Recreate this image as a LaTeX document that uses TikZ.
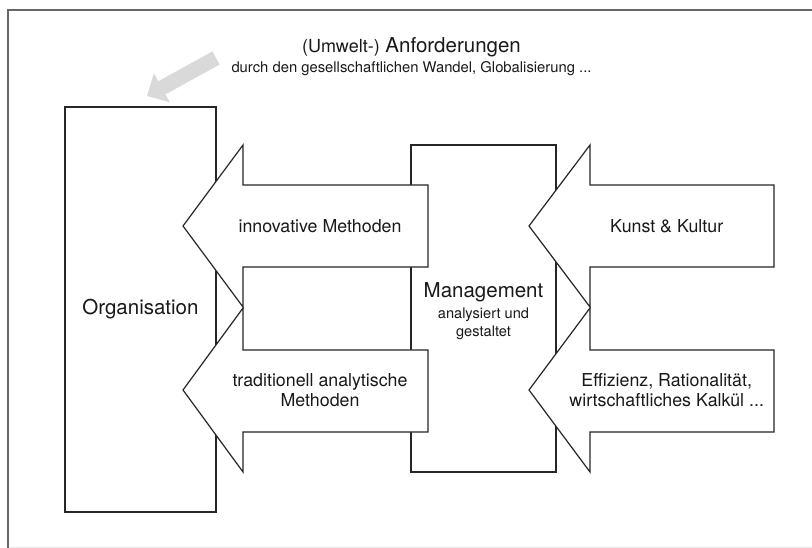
\documentclass[tikz,border=0pt]{standalone}
\usepackage{fontspec}
\setmainfont{TeX Gyre Heros}
\usetikzlibrary{arrows.meta,positioning}
\begin{document}
\begin{tikzpicture}[x=1pt,y=-1pt,
    box/.style={draw=black!85,line width=1.3pt,fill=white,inner sep=0pt},
    bigarrow/.style={draw=black!85,line width=1.2pt,fill=white,line join=miter},
    arrowtext/.style={text=black!90,inner sep=0pt,align=center,font=\fontsize{17.8}{20}\selectfont},
    bigtext/.style={text=black!90,inner sep=0pt,font=\fontsize{20.5}{24}\selectfont},
    smalltext/.style={text=black!90,inner sep=0pt,align=center,font=\fontsize{14.8}{18}\selectfont}]
  \useasboundingbox (0,0) rectangle (812,548);
  \draw[black!8,line width=1pt] (8,547) -- (812,547);
  \draw[black!60,line width=2pt] (8,560) -- (8,10) -- (820,10);
  \node[bigtext,anchor=base] (req) at (411.5,53)
    {{\fontsize{18}{20}\selectfont (Umwelt-)} Anforderungen};
  \node[smalltext,below=3.3pt of req] (reqsub)
    {durch den gesellschaftlichen Wandel, Globalisierung ...};
  \coordinate (envtail) at (216,58);
  \coordinate (envtip) at (147,96);
  \draw[black!15,line width=15pt,-{Triangle[width=32pt,length=17pt]}] (envtail) -- (envtip);
  \node[box,bigtext,minimum width=151pt,minimum height=405pt] (org) at (140.5,309.5) {Organisation};
  \node[box,minimum width=145pt,minimum height=327pt] (mgmt) at (483.5,308.5) {};
  \draw[bigarrow] (183,226) -- (243,145) -- (243,185) -- (428,185) -- (428,267)
    -- (243,267) -- (243,307) -- cycle;
  \draw[bigarrow] (183,390) -- (243,308) -- (243,350) -- (428,350) -- (428,432)
    -- (243,432) -- (243,472) -- cycle;
  \draw[bigarrow] (529,226) -- (590,145) -- (590,185) -- (774,185) -- (774,267)
    -- (590,267) -- (590,307) -- cycle;
  \draw[bigarrow] (529,390) -- (590,308) -- (590,350) -- (774,350) -- (774,432)
    -- (590,432) -- (590,472) -- cycle;
  \node[arrowtext] (innov) at (320,226) {innovative Methoden};
  \node[arrowtext] (trad) at (320,390.5) {traditionell analytische\\Methoden};
  \node[arrowtext] (kunst) at (666.7,226) {Kunst \& Kultur};
  \node[arrowtext] (effiz) at (666.7,390.5) {Effizienz, Rationalität,\\wirtschaftliches Kalkül ...};
  \node[bigtext] (mgmttitle) at (483.5,292.7) {Management};
  \node[smalltext,font=\fontsize{14.6}{18}\selectfont,below=5pt of mgmttitle] (mgmtsub)
    {analysiert und\\gestaltet};
\end{tikzpicture}
\end{document}
